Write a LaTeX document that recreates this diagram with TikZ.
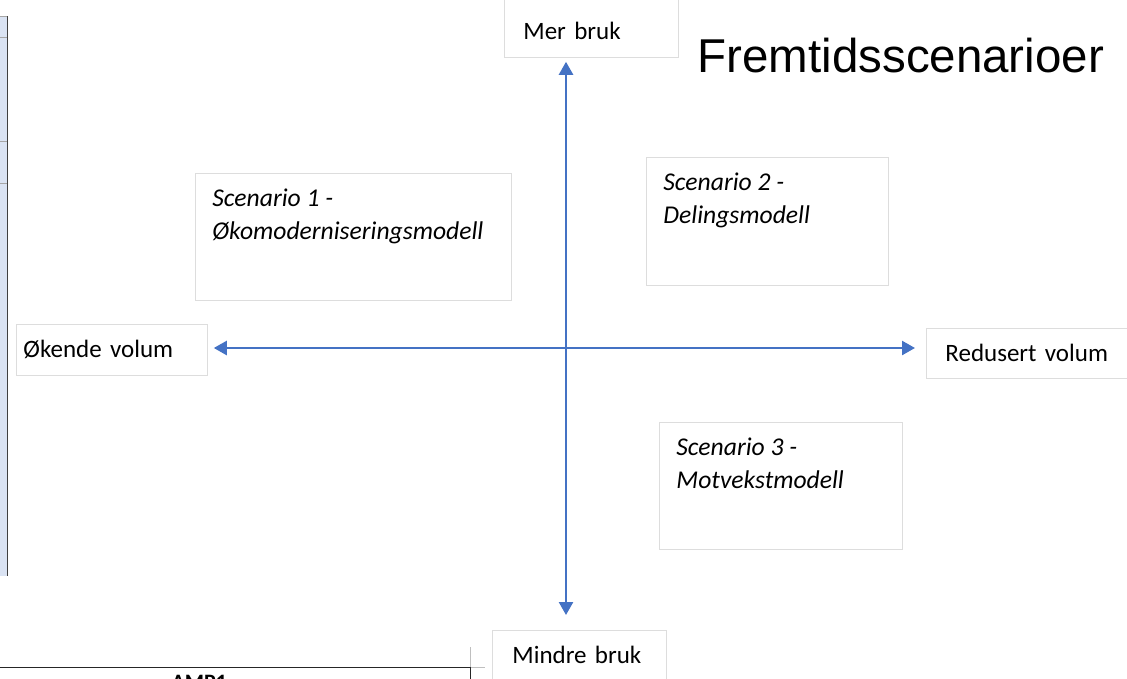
\documentclass[tikz,border=0pt]{standalone}
\usepackage{fontspec}
\setmainfont{Carlito}
\newfontfamily\titlefont{Liberation Sans}
\usetikzlibrary{arrows.meta}
\definecolor{axisblue}{HTML}{4472C4}
\definecolor{boxgray}{HTML}{DDDDDD}
\definecolor{tableblue}{HTML}{DAE3F3}
\tikzset{
 labelbox/.style = {draw=boxgray, line width=0.8pt, anchor=north west, align=left, inner ysep=0pt, text height=33pt, text depth=17pt, font=\fontsize{25}{30}\selectfont},
 scenbox/.style = {draw=boxgray, line width=0.8pt, anchor=north west, inner xsep=17pt, inner ysep=9.5pt, font=\fontsize{25.6}{33.5}\selectfont\itshape},
 axis/.style = {draw=axisblue, line width=2.5pt, {Triangle[length=13pt,width=14pt]}-{Triangle[length=13pt,width=14pt]}}
}
\begin{document}
\begin{tikzpicture}[x=1pt, y=-1pt]
\clip (0,0) rectangle (1127,678);

\fill[tableblue] (0,16) rectangle (7,576);
\foreach \y in {16,37,141,183} {
 \draw[gray!70] (0,\y)--(7,\y);
}
\draw[black!75, line width=1pt] (7,16)--(7,576);
\draw[gray!50] (470,647)--(470,667)--(485,667);
\draw[black!85, line width=1pt] (0,667)--(470,667)--(470,690);
\node[anchor=base west, font=\bfseries\fontsize{22}{26}\selectfont] (amp) at (168,689) {AMP1};

\node[labelbox, inner xsep=19pt, text width=136pt, text height=41pt, text depth=18pt] (mer) at (504,-2) {Mer bruk};
\node[labelbox, inner xsep=7pt, text width=177pt, text depth=18pt] (okende) at (16,324) {Økende volum};
\node[labelbox, inner xsep=19pt, text width=172pt] (redusert) at (926,328) {Redusert volum};
\node[labelbox, inner xsep=20pt, text width=134pt] (mindre) at (492,630) {Mindre bruk};

\node[scenbox] (scen1) at (195,173) {\parbox[b][108pt][t]{282pt}{\strut Scenario 1 -\\Økomoderniseringsmodell}};
\node[scenbox] (scen2) at (646,157) {\parbox[b][109pt][t]{208pt}{\strut Scenario 2 -\\Delingsmodell}};
\node[scenbox] (scen3) at (659,422) {\parbox[b][108pt][t]{209pt}{\strut Scenario 3 -\\Motvekstmodell}};

\node[anchor=base west, font=\titlefont\fontsize{47.5}{57}\selectfont] (title) at (694,72) {Fremtidsscenarioer};

\coordinate (o) at (566,348);
\draw[axis, shorten <=4pt, shorten >=15pt] (o |- mer.south)--(o |- mindre.north);
\draw[axis, shorten <=6pt, shorten >=11pt] (o -| okende.east)--(o -| redusert.west);

\end{tikzpicture}
\end{document}
